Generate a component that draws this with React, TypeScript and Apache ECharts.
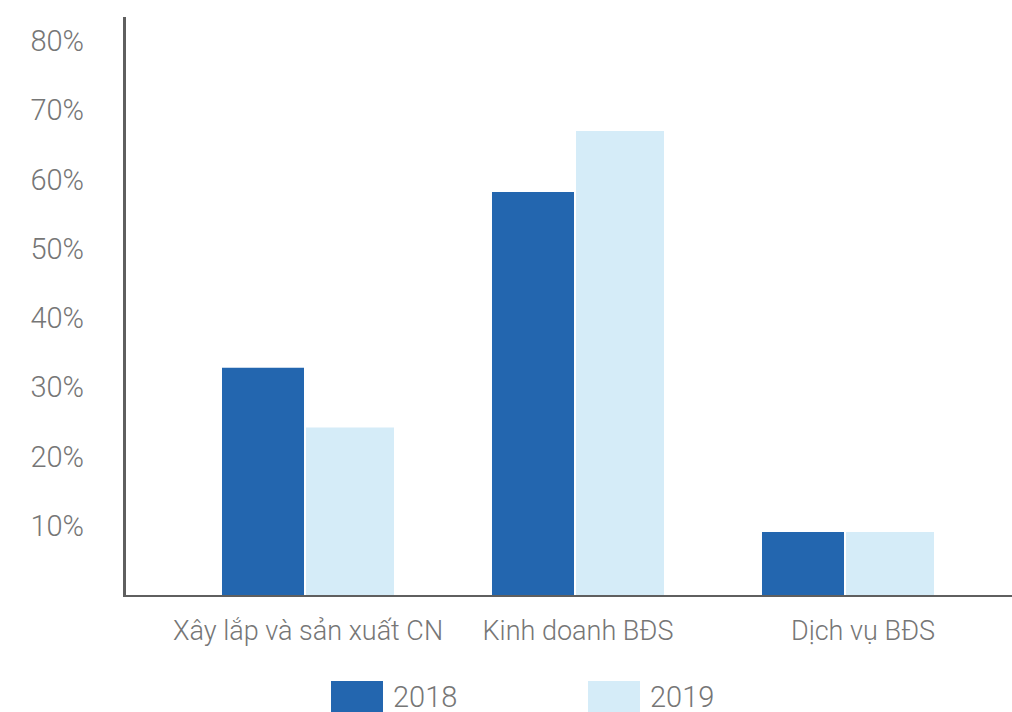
import React, { useEffect, useRef } from "react";
import * as echarts from "echarts";

const categories = ["Xây lắp và sản xuất CN", "Kinh doanh BĐS", "Dịch vụ BĐS"];
const values2018 = [32.8, 58.2, 9.1];
const values2019 = [24.2, 67.0, 9.1];
const yTicks = [10, 20, 30, 40, 50, 60, 70, 80];

const FONT = "Roboto, 'Open Sans', sans-serif";
const TEXT = "#767676";

export default function App() {
  const ref = useRef<HTMLDivElement>(null);
  useEffect(() => {
    if (!ref.current) return;
    const chart = echarts.init(ref.current, undefined, { renderer: "svg" });
    const legendText = {
      fontFamily: FONT,
      fontWeight: 300,
      fontSize: 29,
      lineHeight: 29,
      color: TEXT,
      padding: [0, 0, 0, 5],
    };
    chart.setOption({
      animation: false,
      grid: { left: 173, width: 810, top: 41, height: 554 },
      xAxis: {
        type: "category",
        data: categories.map((c, i) =>
          i === 2 ? { value: c, textStyle: { padding: [0, 0, 0, 30] } } : c
        ),
        axisLine: { show: false },
        axisTick: { show: false },
        axisLabel: {
          interval: 0,
          margin: 22,
          fontFamily: FONT,
          fontWeight: 300,
          fontSize: 27,
          color: TEXT,
        },
      },
      yAxis: {
        type: "value",
        min: 0,
        max: 80,
        interval: 10,
        splitLine: { show: false },
        axisLine: { show: false },
        axisTick: { show: false },
        axisLabel: {
          margin: 89,
          fontFamily: FONT,
          fontWeight: 300,
          fontSize: 29,
          color: TEXT,
          padding: [0, 0, 5, 0],
          formatter: (v: number) => (yTicks.includes(v) ? v + "%" : ""),
        },
      },
      legend: [
        {
          left: 331,
          top: 681,
          padding: 0,
          itemWidth: 52,
          itemHeight: 31,
          itemGap: 0,
          icon: "rect",
          data: ["2018"],
          textStyle: legendText,
        },
        {
          left: 588,
          top: 681,
          padding: 0,
          itemWidth: 52,
          itemHeight: 31,
          itemGap: 0,
          icon: "rect",
          data: ["2019"],
          textStyle: legendText,
        },
      ],
      series: [
        {
          name: "2018",
          type: "bar",
          data: values2018,
          barWidth: 82,
          barGap: "2.44%",
          itemStyle: { color: "#2366AF" },
        },
        {
          name: "2019",
          type: "bar",
          data: values2019,
          barWidth: 88,
          itemStyle: { color: "#D5ECF8" },
        },
      ],
      graphic: [
        {
          type: "line",
          shape: { x1: 124.5, y1: 17, x2: 124.5, y2: 597 },
          style: { stroke: "#5f5f5f", lineWidth: 3 },
          z: 10,
        },
        {
          type: "line",
          shape: { x1: 123, y1: 596, x2: 1012, y2: 596 },
          style: { stroke: "#5f5f5f", lineWidth: 2 },
          z: 10,
        },
      ],
    });
    return () => chart.dispose();
  }, []);
  return (
    <div
      ref={ref}
      style={{ position: "absolute", left: 0, top: 0, width: 1012, height: 712 }}
    />
  );
}
